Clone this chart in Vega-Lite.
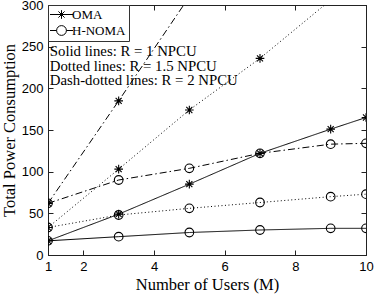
{
  "$schema": "https://vega.github.io/schema/vega-lite/v6.json",
  "width": 318,
  "height": 250,
  "autosize": {"type": "none"},
  "padding": {"left": 48, "top": 5, "right": 8, "bottom": 40},
  "background": "white",
  "config": {
    "view": {"stroke": "#222", "strokeWidth": 1},
    "axis": {
      "grid": false,
      "domainColor": "#222",
      "tickColor": "#222",
      "tickSize": -5,
      "labelColor": "black",
      "titleColor": "black",
      "labelFont": "Liberation Sans",
      "labelFontSize": 13,
      "titleFont": "Liberation Serif",
      "titleFontSize": 16.5,
      "titleFontWeight": "normal",
      "labelFlush": false
    },
    "legend": {"strokeColor": "#333", "strokeWidth": 1, "fillColor": "white"}
  },
  "datasets": {
    "series": [
      {"method": "OMA", "R": "1", "users": 1, "power": 17},
      {"method": "OMA", "R": "1", "users": 3, "power": 49},
      {"method": "OMA", "R": "1", "users": 5, "power": 85},
      {"method": "OMA", "R": "1", "users": 7, "power": 122},
      {"method": "OMA", "R": "1", "users": 9, "power": 151},
      {"method": "OMA", "R": "1", "users": 10, "power": 165},
      {"method": "OMA", "R": "1.5", "users": 1, "power": 33},
      {"method": "OMA", "R": "1.5", "users": 3, "power": 103},
      {"method": "OMA", "R": "1.5", "users": 5, "power": 174},
      {"method": "OMA", "R": "1.5", "users": 7, "power": 236},
      {"method": "OMA", "R": "1.5", "users": 9, "power": 306},
      {"method": "OMA", "R": "1.5", "users": 10, "power": 341},
      {"method": "OMA", "R": "2", "users": 1, "power": 62},
      {"method": "OMA", "R": "2", "users": 3, "power": 185},
      {"method": "OMA", "R": "2", "users": 5, "power": 310},
      {"method": "OMA", "R": "2", "users": 7, "power": 435},
      {"method": "OMA", "R": "2", "users": 9, "power": 560},
      {"method": "OMA", "R": "2", "users": 10, "power": 622},
      {"method": "H-NOMA", "R": "1", "users": 1, "power": 17},
      {"method": "H-NOMA", "R": "1", "users": 3, "power": 22},
      {"method": "H-NOMA", "R": "1", "users": 5, "power": 27},
      {"method": "H-NOMA", "R": "1", "users": 7, "power": 30},
      {"method": "H-NOMA", "R": "1", "users": 9, "power": 32},
      {"method": "H-NOMA", "R": "1", "users": 10, "power": 32},
      {"method": "H-NOMA", "R": "1.5", "users": 1, "power": 33},
      {"method": "H-NOMA", "R": "1.5", "users": 3, "power": 48},
      {"method": "H-NOMA", "R": "1.5", "users": 5, "power": 56},
      {"method": "H-NOMA", "R": "1.5", "users": 7, "power": 63},
      {"method": "H-NOMA", "R": "1.5", "users": 9, "power": 70},
      {"method": "H-NOMA", "R": "1.5", "users": 10, "power": 73},
      {"method": "H-NOMA", "R": "2", "users": 1, "power": 62},
      {"method": "H-NOMA", "R": "2", "users": 3, "power": 90},
      {"method": "H-NOMA", "R": "2", "users": 5, "power": 104},
      {"method": "H-NOMA", "R": "2", "users": 7, "power": 122},
      {"method": "H-NOMA", "R": "2", "users": 9, "power": 133},
      {"method": "H-NOMA", "R": "2", "users": 10, "power": 134}
    ],
    "notes": [
      {"label": "Solid lines: R = 1 NPCU", "users": 1.05, "power": 244},
      {"label": "Dotted lines: R = 1.5 NPCU", "users": 1.05, "power": 226},
      {"label": "Dash-dotted lines: R = 2 NPCU", "users": 1.05, "power": 209}
    ]
  },
  "layer": [
    {
      "data": {"name": "series"},
      "mark": {"type": "line", "clip": true, "color": "black", "strokeWidth": 1},
      "encoding": {
        "x": {"field": "users", "type": "quantitative", "scale": {"domain": [1, 10]},
              "axis": {"orient": "bottom", "values": [1, 2, 4, 6, 8, 10], "title": "Number of Users (M)", "labelPadding": 10, "titlePadding": 3}},
        "y": {"field": "power", "type": "quantitative", "scale": {"domain": [0, 300]},
              "axis": {"orient": "left", "values": [0, 50, 100, 150, 200, 250, 300], "title": "Total Power Consumption", "labelPadding": 10, "titlePadding": 4}},
        "strokeDash": {"field": "R", "type": "nominal", "legend": null,
                       "scale": {"domain": ["1", "1.5", "2"], "range": [[1, 0], [1, 2.5], [7, 3, 1.5, 3]]}},
        "detail": {"field": "method", "type": "nominal"}
      }
    },
    {
      "data": {"name": "series"},
      "mark": {"type": "point", "clip": true, "filled": false, "color": "black", "size": 75, "strokeWidth": 1.1, "opacity": 1},
      "encoding": {
        "x": {"field": "users", "type": "quantitative", "scale": {"domain": [1, 10]}, "axis": null},
        "y": {"field": "power", "type": "quantitative", "scale": {"domain": [0, 300]}, "axis": null},
        "shape": {
          "field": "method", "type": "nominal", "legend": null,
          "scale": {"domain": ["OMA", "H-NOMA"], "range": ["M-1,0L1,0M0,-1L0,1M-0.7,-0.7L0.7,0.7M-0.7,0.7L0.7,-0.7", "circle"]}
        }
      }
    },
    {
      "data": {"name": "series"},
      "transform": [{"filter": "false"}],
      "mark": {"type": "point", "filled": false, "color": "black", "strokeWidth": 1, "opacity": 1},
      "encoding": {
        "x": {"field": "users", "type": "quantitative", "scale": {"domain": [1, 10]}, "axis": null},
        "y": {"field": "power", "type": "quantitative", "scale": {"domain": [0, 300]}, "axis": null},
        "shape": {
          "field": "method", "type": "nominal",
          "scale": {"domain": ["OMA", "H-NOMA"], "range": [
            "M-2.3,0L2.3,0M0,-0.87L0,0.87M-0.62,-0.62L0.62,0.62M-0.62,0.62L0.62,-0.62",
            "M-2.3,0L-0.98,0M0.98,0L2.3,0M-0.98,0A0.98,0.98 0 1,0 0.98,0A0.98,0.98 0 1,0 -0.98,0"
          ]},
          "legend": {
            "title": null,
            "orient": "top-left",
            "offset": 0,
            "padding": 3,
            "strokeColor": "#333",
            "fillColor": "white",
            "cornerRadius": 0,
            "labelFont": "Liberation Serif",
            "labelFontSize": 13,
            "labelColor": "black",
            "labelLimit": 200,
            "symbolSize": 100,
            "symbolStrokeColor": "black",
            "symbolFillColor": "transparent",
            "symbolStrokeWidth": 1,
            "symbolOpacity": 1,
            "symbolOffset": 4,
            "labelOffset": 4,
            "rowPadding": 1,
            "encode": {
              "legend": {"stroke": {"value": "#333"}, "strokeWidth": {"value": 1}}
            }
          }
        }
      }
    },
    {
      "data": {"name": "notes"},
      "mark": {"type": "text", "align": "left", "baseline": "middle", "font": "Liberation Serif", "fontSize": 14.8, "color": "black"},
      "encoding": {
        "x": {"field": "users", "type": "quantitative", "scale": {"domain": [1, 10]},
              "axis": {"orient": "top", "values": [1, 2, 4, 6, 8, 10], "labels": false, "title": null}},
        "y": {"field": "power", "type": "quantitative", "scale": {"domain": [0, 300]},
              "axis": {"orient": "right", "values": [0, 50, 100, 150, 200, 250, 300], "labels": false, "title": null}},
        "text": {"field": "label"}
      }
    }
  ],
  "resolve": {"axis": {"x": "independent", "y": "independent"}, "scale": {"shape": "independent"}}
}
